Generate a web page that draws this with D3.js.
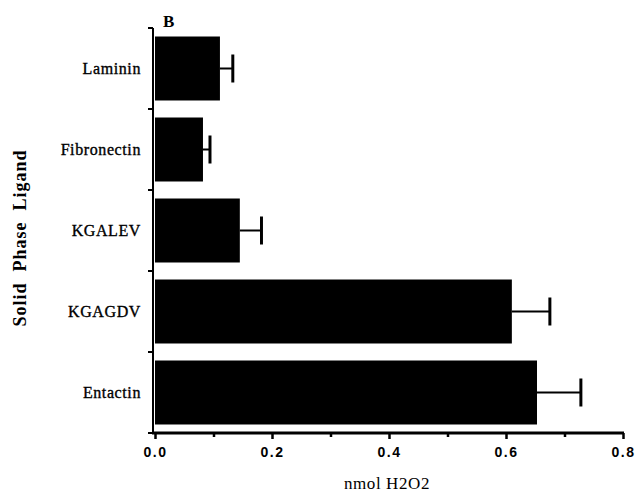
<!DOCTYPE html>
<html>
<head>
<meta charset="utf-8">
<script src="https://cdn.jsdelivr.net/npm/d3@7"></script>
<style>
  body { margin: 0; background: #fff; }
  svg { display: block; }
</style>
</head>
<body>
<svg id="chart" width="636" height="494"></svg>
<script>
const categories = ["Laminin", "Fibronectin", "KGALEV", "KGAGDV", "Entactin"];
const values = [0.111, 0.082, 0.145, 0.610, 0.653];
const errors = [0.022, 0.012, 0.037, 0.065, 0.075];
const xTicks = [0.0, 0.2, 0.4, 0.6, 0.8];
const xMinorTicks = [0.1, 0.3, 0.5, 0.7];
const xLabel = "nmol H2O2";
const yLabel = "Solid  Phase  Ligand";
const panelLabel = "B";

const svg = d3.select("#chart");
const mLeft = 155, mRight = 623, mTop = 28, mBottom = 433;

const x = d3.scaleLinear().domain([0, 0.8]).range([mLeft, mRight]);
const y = d3.scaleBand().domain(categories).range([mTop, mBottom]).paddingInner(0.21).paddingOuter(0.105);

// bars
svg.selectAll("rect.bar").data(categories).enter().append("rect")
  .attr("x", x(0))
  .attr("y", d => y(d))
  .attr("width", (d, i) => x(values[i]) - x(0))
  .attr("height", y.bandwidth())
  .attr("fill", "#000");

// error bars
const eb = svg.selectAll("g.err").data(categories).enter().append("g");
eb.append("line")
  .attr("x1", (d, i) => x(values[i]))
  .attr("x2", (d, i) => x(values[i] + errors[i]))
  .attr("y1", d => y(d) + y.bandwidth() / 2)
  .attr("y2", d => y(d) + y.bandwidth() / 2)
  .attr("stroke", "#000").attr("stroke-width", 2);
eb.append("line")
  .attr("x1", (d, i) => x(values[i] + errors[i]))
  .attr("x2", (d, i) => x(values[i] + errors[i]))
  .attr("y1", d => y(d) + y.bandwidth() / 2 - 14)
  .attr("y2", d => y(d) + y.bandwidth() / 2 + 14)
  .attr("stroke", "#000").attr("stroke-width", 3);

// x axis
const xAxis = d3.axisBottom(x).tickValues(xTicks).tickFormat(d3.format(".1f")).tickSize(6).tickSizeOuter(0);
const gx = svg.append("g").attr("transform", `translate(0,${mBottom})`).call(xAxis);
gx.select(".domain").attr("stroke-width", 3).attr("d", `M${mLeft - 3},0H${mRight + 1}`);
gx.selectAll(".tick line").attr("stroke-width", 2.5);
gx.selectAll(".tick text")
  .attr("y", 14)
  .attr("font-family", "Arial, 'Liberation Sans', sans-serif")
  .attr("font-weight", "bold")
  .attr("font-size", 14)
  .attr("letter-spacing", 1.5)
  .attr("fill", "#000");

const gxm = svg.append("g").attr("transform", `translate(0,${mBottom})`)
  .call(d3.axisBottom(x).tickValues(xMinorTicks).tickSize(4).tickFormat(""));
gxm.select(".domain").remove();
gxm.selectAll(".tick line").attr("stroke-width", 2.5);

// y axis
const yTickPos = categories.map(c => y(c) - y.step() * y.paddingInner() / 2).concat([mBottom]);
svg.append("line").attr("x1", mLeft - 2).attr("x2", mLeft - 2).attr("y1", mTop).attr("y2", mBottom)
  .attr("stroke", "#000").attr("stroke-width", 2);
svg.selectAll("line.ytick").data(yTickPos).enter().append("line")
  .attr("x1", mLeft - 7).attr("x2", mLeft - 2)
  .attr("y1", d => d).attr("y2", d => d)
  .attr("stroke", "#000").attr("stroke-width", 2);

// category labels
svg.selectAll("text.cat").data(categories).enter().append("text")
  .attr("x", mLeft - 14)
  .attr("y", d => y(d) + y.bandwidth() / 2)
  .attr("dy", "0.35em")
  .attr("text-anchor", "end")
  .attr("font-family", "'Times New Roman', 'Liberation Serif', serif")
  .attr("font-size", 16)
  .attr("letter-spacing", 0.6)
  .attr("stroke", "#000").attr("stroke-width", 0.35)
  .text(d => d);

// x label
svg.append("text")
  .attr("x", (mLeft + mRight) / 2 - 2)
  .attr("y", 489)
  .attr("text-anchor", "middle")
  .attr("font-family", "'Times New Roman', 'Liberation Serif', serif")
  .attr("font-size", 17)
  .attr("letter-spacing", 0.6)
  .text(xLabel);

// y label
svg.append("text")
  .attr("transform", "translate(26,238) rotate(-90)")
  .attr("text-anchor", "middle")
  .attr("font-family", "'Times New Roman', 'Liberation Serif', serif")
  .attr("font-weight", "bold")
  .attr("font-size", 18)
  .attr("letter-spacing", 1)
  .style("white-space", "pre")
  .text(yLabel);

// panel label
svg.append("text")
  .attr("x", 163)
  .attr("y", 27)
  .attr("font-family", "'Times New Roman', 'Liberation Serif', serif")
  .attr("font-weight", "bold")
  .attr("font-size", 17)
  .text(panelLabel);
</script>
</body>
</html>
